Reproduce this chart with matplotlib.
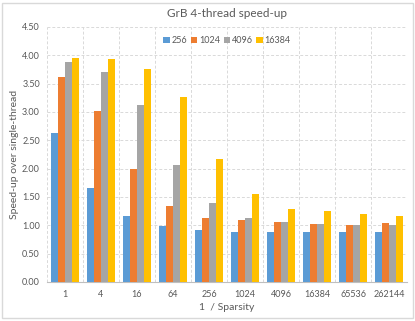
import numpy as np
import matplotlib.pyplot as plt
from matplotlib.patches import Rectangle

plt.rcParams['font.family'] = ['Lato', 'DejaVu Sans']

categories = ['1', '4', '16', '64', '256', '1024', '4096', '16384', '65536', '262144']
series_names = ['256', '1024', '4096', '16384']
s256 = [2.63, 1.65, 1.16, 0.98, 0.92, 0.89, 0.88, 0.88, 0.89, 0.88]
s1024 = [3.61, 3.01, 1.99, 1.34, 1.13, 1.09, 1.05, 1.02, 1.01, 1.04]
s4096 = [3.89, 3.70, 3.13, 2.06, 1.39, 1.13, 1.06, 1.02, 1.01, 1.00]
s16384 = [3.96, 3.93, 3.76, 3.26, 2.17, 1.55, 1.29, 1.25, 1.20, 1.17]
colors = ['#5B9BD5', '#ED7D31', '#A5A5A5', '#FFC000']

fig = plt.figure(figsize=(4.15, 3.21), dpi=100)
ax = fig.add_axes([0.113, 0.1215, 0.868, 0.7945])

x = np.arange(len(categories))
w = 0.19
for i, (vals, name) in enumerate(zip([s256, s1024, s4096, s16384], series_names)):
    ax.bar(x + (i - 1.5) * w, vals, width=w, color=colors[i], label=name, zorder=3)

ax.set_xlim(-0.5, len(categories) - 0.5)
ax.set_ylim(0, 4.5)
ax.set_yticks(np.arange(0, 4.51, 0.5))
ax.set_yticklabels([f'{v:.2f}' for v in np.arange(0, 4.51, 0.5)])
ax.set_xticks(x)
ax.set_xticklabels(categories)
ax.set_xticks(np.arange(-0.5, len(categories)), minor=True)
ax.tick_params(axis='both', which='both', length=0, labelsize=6.5, colors='#595959')
ax.tick_params(axis='x', pad=6)
ax.tick_params(axis='y', pad=5)
ax.grid(True, axis='y', which='major', color='#D9D9D9', linestyle=(0, (3, 2)), linewidth=0.7, zorder=0)
ax.grid(True, axis='x', which='minor', color='#D9D9D9', linestyle=(0, (3, 2)), linewidth=0.7, zorder=0)
for s in ['top', 'right', 'left']:
    ax.spines[s].set_visible(False)
ax.spines['bottom'].set_color('#BFBFBF')
ax.spines['bottom'].set_linewidth(0.8)

ax.set_title('GrB 4-thread speed-up', fontsize=8.5, color='#595959', pad=7)
ax.set_ylabel('Speed-up over single-thread', fontsize=7.5, color='#595959')
ax.yaxis.set_label_coords(-0.077, 0.5)
ax.set_xlabel('1  / Sparsity', fontsize=7.5, color='#595959', labelpad=3)

ax.legend(loc='upper center', bbox_to_anchor=(0.5, 0.995), ncol=4, frameon=False, fontsize=6.5,
          handlelength=0.7, handleheight=0.7, handletextpad=0.2, columnspacing=0.4, labelcolor='#595959')

fig.patches.append(Rectangle((0.005, 0.008), 0.99, 0.984, transform=fig.transFigure,
                             fill=False, edgecolor='#D9D9D9', linewidth=1.0))

fig.savefig('out.png', dpi=100)
